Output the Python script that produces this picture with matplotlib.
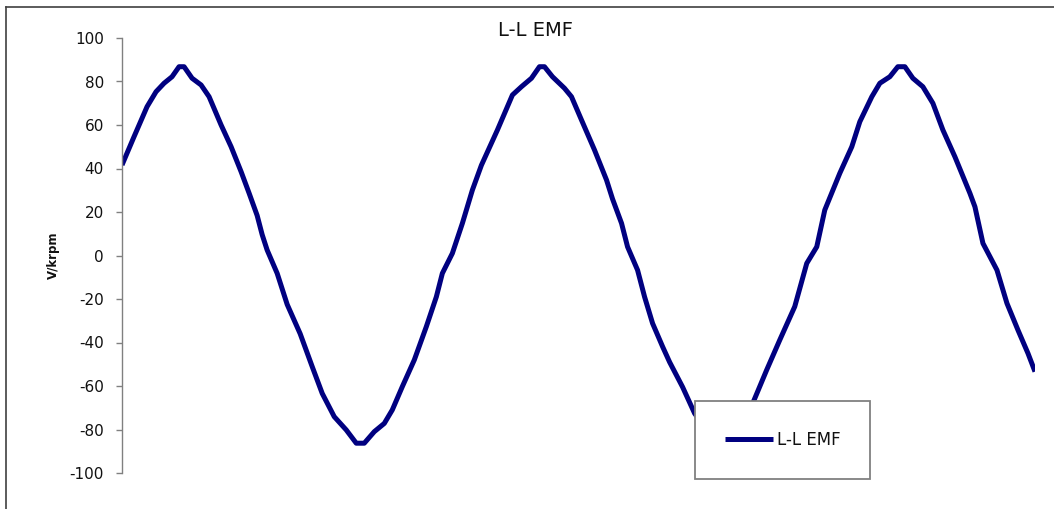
import matplotlib
matplotlib.use('Agg')
import matplotlib.pyplot as plt
from matplotlib.lines import Line2D

# rotor position (electrical degrees) and line-to-line back EMF
position = [0, 12, 25, 34, 42, 50, 57, 62, 70, 79, 87, 99, 109, 119, 127, 135, 140, 145,
            155, 165, 178, 190, 200, 212, 224, 234, 242, 252, 262, 270, 280, 292, 304, 314,
            320, 330, 340, 350, 359, 375, 390, 399, 409, 417, 422, 430, 442, 449, 459, 472,
            484, 490, 499, 505, 515, 522, 530, 540, 547, 560, 572, 584, 594, 602, 612, 622,
            630, 644, 657, 672, 684, 694, 702, 717, 729, 737, 749, 757, 767, 775, 782, 790,
            800, 810, 820, 832, 847, 852, 860, 874, 884, 895, 905, 912]
emf_ll = [41.6, 54.6, 68.4, 75.3, 79.2, 82.2, 86.8, 86.8, 81.5, 78.4, 73.0, 60.0, 50.0, 38.5,
          28.6, 18.4, 9.6, 2.5, -8.2, -22.5, -36.0, -51.1, -63.4, -74.1, -80.2, -86.3, -86.3,
          -81.0, -77.2, -71.0, -60.3, -48.0, -32.7, -19.0, -8.2, 1.0, 14.8, 30.1, 41.5, 57.7,
          73.8, 77.6, 81.5, 86.8, 86.8, 82.2, 76.9, 73.0, 62.3, 48.5, 34.7, 26.0, 14.8, 4.0,
          -6.7, -19.0, -31.2, -41.9, -49.0, -60.5, -72.6, -80.2, -86.3, -86.3, -81.0, -77.2,
          -68.0, -52.6, -38.9, -23.5, -3.6, 4.0, 20.9, 37.8, 50.0, 61.5, 73.0, 79.2, 82.2,
          86.8, 86.8, 81.5, 77.6, 70.0, 57.7, 45.4, 28.6, 22.4, 5.6, -6.7, -22.0, -34.3,
          -45.0, -53.4]
y_ticks = [-100, -80, -60, -40, -20, 0, 20, 40, 60, 80, 100]

W, H = 1054, 509
plt.rcParams['font.family'] = 'DejaVu Sans'

fig = plt.figure(figsize=(W / 100, H / 100), dpi=100)
ax = fig.add_axes([122 / W, 1 - 473 / H, (1035 - 122) / W, 435 / H])

line_color = '#000080'
ax.plot(position, emf_ll, color=line_color, lw=3.6, solid_joinstyle='round',
        solid_capstyle='butt', label='L-L EMF')

ax.set_xlim(position[0], position[-1])
ax.set_ylim(-100, 100)
ax.set_yticks(y_ticks)
ax.set_yticklabels([str(t) for t in y_ticks])

ax.spines[['top', 'right', 'bottom']].set_visible(False)
ax.spines['left'].set_color('#808080')
ax.spines['left'].set_linewidth(1.0)
ax.tick_params(axis='x', bottom=False, labelbottom=False)
ax.tick_params(axis='y', direction='out', length=4.5, width=1.0, color='#808080',
               labelsize=11, labelcolor='#111111', pad=8.5)

fig.text(535 / W, 1 - 30 / H, 'L-L EMF', ha='center', va='center', fontsize=14,
         color='#111111')
fig.text(53 / W, 1 - 255 / H, 'V/krpm', ha='center', va='center', rotation=90,
         fontsize=8.5, fontweight='bold', color='#111111')

leg = ax.legend(loc='lower left', bbox_to_anchor=(695 / W, 1 - 479 / H),
                bbox_transform=fig.transFigure, fontsize=12, frameon=True,
                fancybox=False, framealpha=1, edgecolor='#808080', borderpad=1.8,
                handlelength=2.9, handletextpad=0.2, borderaxespad=0)
leg.get_frame().set_linewidth(1.3)
for t in leg.get_texts():
    t.set_color('#111111')

# outer chart border (only top and left edges fall inside the frame)
fig.add_artist(Line2D([6 / W, 1], [1 - 7 / H, 1 - 7 / H], transform=fig.transFigure,
                      color='#404040', lw=1.2))
fig.add_artist(Line2D([6 / W, 6 / W], [0, 1 - 7 / H], transform=fig.transFigure,
                      color='#404040', lw=1.2))

fig.savefig('out.png', dpi=100)
